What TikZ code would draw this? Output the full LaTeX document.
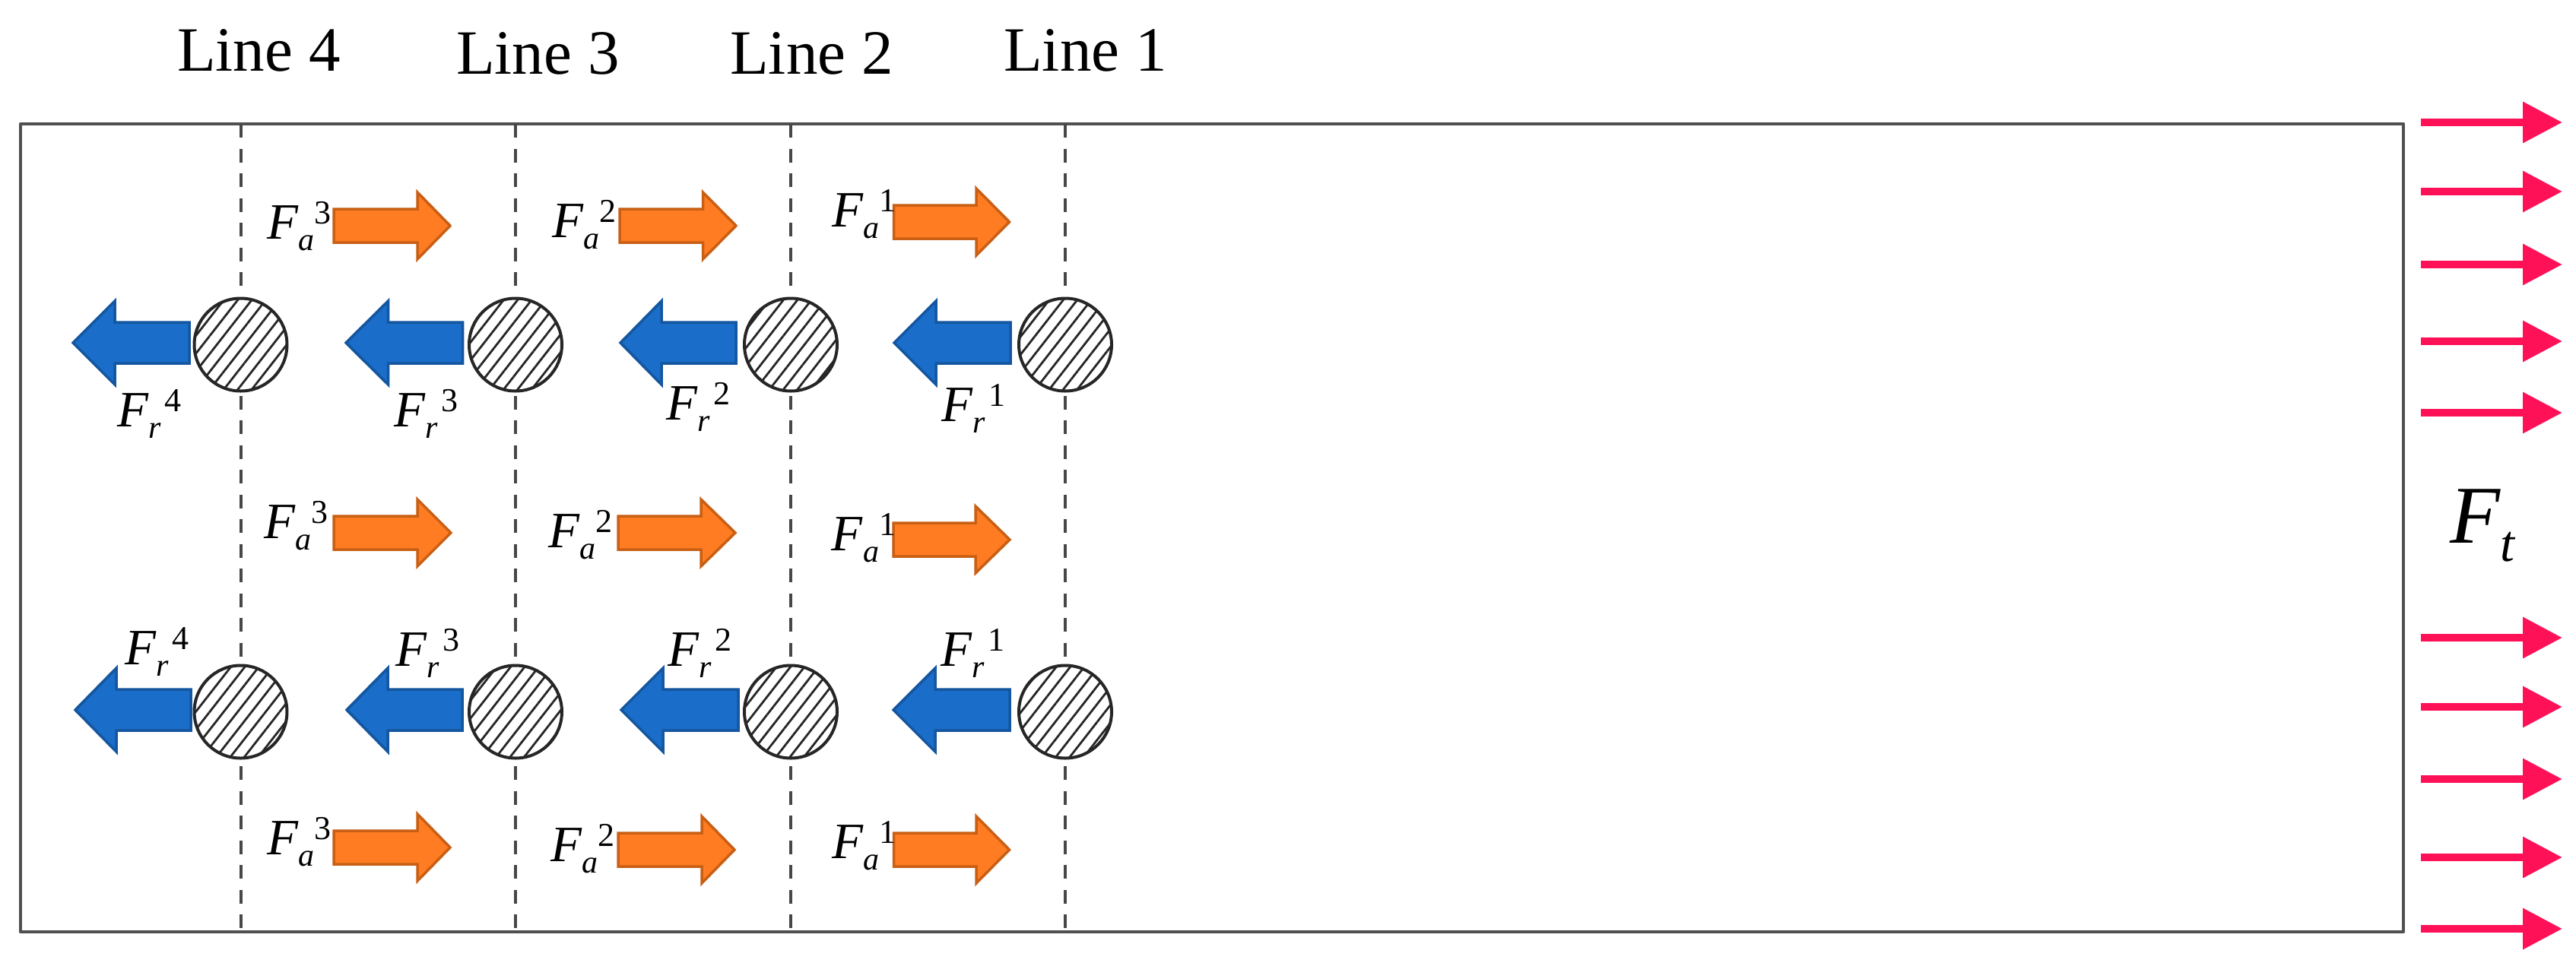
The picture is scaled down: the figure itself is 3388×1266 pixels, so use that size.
\documentclass[tikz,border=0pt]{standalone}
\usepackage{fontspec}
\setmainfont{Liberation Serif}
\usetikzlibrary{arrows.meta,patterns.meta}
\definecolor{orF}{HTML}{FF7C22}
\definecolor{orD}{HTML}{C95F14}
\definecolor{blF}{HTML}{1A6DC8}
\definecolor{blD}{HTML}{14569F}
\definecolor{ftR}{HTML}{FF1158}
\definecolor{boxG}{HTML}{505050}
\newcommand\frc[3]{\fontsize{67}{70}\selectfont\textit{F}\rlap{\raisebox{-15pt}{\fontsize{42}{45}\selectfont\textit{#1}}}\hspace{21pt}\raisebox{20pt}{\fontsize{44}{48}\selectfont #2}}
\newcommand\blk[7]{\draw[#1] (#2,#5-#6) -- (#3,#5-#6) -- (#3,#5-#7) -- (#4,#5) -- (#3,#5+#7) -- (#3,#5+#6) -- (#2,#5+#6) -- cycle;}
\tikzset{
  box/.style={draw=boxG,line width=4.5pt,line join=round},
  ln/.style={draw=black!72,line width=4pt,dash pattern=on 18pt off 14.5pt},
  hatch/.style={circle,minimum size=122pt,inner sep=0pt,draw=black!85,line width=4pt,fill=white,
    postaction={pattern={Lines[angle=52,distance=14.5pt,line width=2.8pt]},pattern color=black!85}},
  orange arrow/.style={fill=orF,draw=orD,line width=3.5pt,line join=miter},
  blue arrow/.style={fill=blF,draw=blD,line width=3.5pt,line join=miter},
  ft/.style={draw=ftR,line width=10pt,-{Triangle[length=52pt,width=52pt,fill=ftR]}},
  lab/.style={inner sep=0pt,anchor=base west},
  head/.style={inner sep=0pt,anchor=base west,font=\fontsize{83}{90}\selectfont},
}
\begin{document}
\begin{tikzpicture}[x=1pt,y=-1pt]
\useasboundingbox (0,0) rectangle (3388,1266);
\fill[white] (0,0) rectangle (3388,1266);
\draw[box] (27,163) rectangle (3161,1226);
% dashed lines
\foreach \n/\x in {4/316.5,3/678,2/1040,1/1401}{
  \coordinate (top\n) at (\x,163);
  \coordinate (bot\n) at (\x,1226);
  \draw[ln] (top\n) -- (bot\n);
  \node[hatch] (ca\n) at (\x,453.5) {};
  \node[hatch] (cb\n) at (\x,936.5) {};
}
% headings
\node[head] (h4) at (233,93) {Line 4};
\node[head] (h3) at (600,97) {Line 3};
\node[head] (h2) at (960,97) {Line 2};
\node[head] (h1) at (1320,93) {Line 1};
% blue arrows
\foreach \tl/\bs/\tp in {249/151/96,608.5/510.5/455,968/870/816,1329/1231/1176}{
  \blk{blue arrow}{\tl}{\bs}{\tp}{451}{27}{55}
}
\foreach \tl/\bs/\tp in {251/153/99,608/510/456,971/872/817,1328/1230/1175}{
  \blk{blue arrow}{\tl}{\bs}{\tp}{934}{27}{55}
}
% orange arrows
\foreach \tl/\bs/\tp/\y in {439/549/592/297,815/924.5/968/297,1175.5/1284/1327.5/292,
   439/549/593/701,813/922/967/701,1175/1283/1328/710,
   439/549/592/1115,813/923/966/1118,1175.5/1284/1327.5/1118}{
  \blk{orange arrow}{\tl}{\bs}{\tp}{\y}{22}{44}
}
% force labels
\foreach \n/\x/\y/\s/\u in {a/351/314/a/3,b/726/312/a/2,c/1094/298/a/1,
   d/347/708/a/3,e/721/720/a/2,f/1093.5/724/a/1,
   g/351/1124/a/3,h/724/1133/a/2,i/1094/1129/a/1,
   j/154/561/r/4,k/518/561/r/3,l/876/552/r/2,m/1238/554/r/1,
   n/164/874/r/4,o/520/876/r/3,p/878/876/r/2,q/1237/876/r/1}{
  \node[lab] (f\n) at (\x,\y) {\frc{\s}{\u}{}};
}
% applied traction
\foreach \n/\y in {1/161,2/252,3/348,4/449,5/543,6/839,7/930,8/1025,9/1128,10/1222}{
  \coordinate (fts\n) at (3184,\y);
  \coordinate (fte\n) at (3370,\y);
  \draw[ft] (fts\n) -- (fte\n);
}
\node[lab] (ftF) at (3222,714) {\fontsize{108}{112}\selectfont\textit{F}};
\node[lab] (ftt) at (3288,738) {\fontsize{68}{72}\selectfont\textit{t}};
\end{tikzpicture}
\end{document}
